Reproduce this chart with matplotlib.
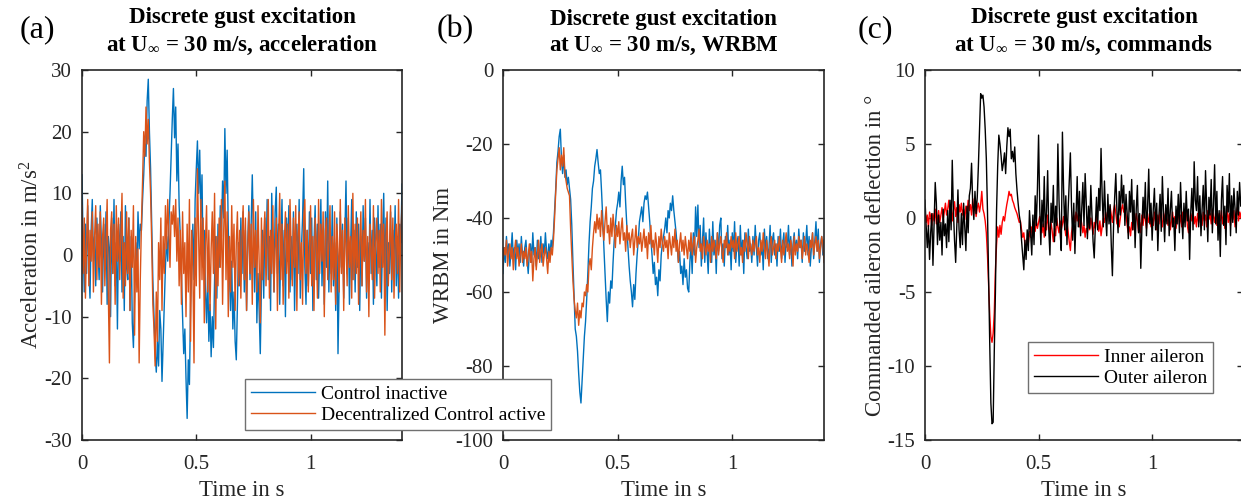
import numpy as np
import matplotlib
matplotlib.use("Agg")
import matplotlib.pyplot as plt

plt.rcParams['font.family'] = ['Liberation Serif', 'DejaVu Serif']
plt.rcParams['mathtext.fontset'] = 'custom'
plt.rcParams['mathtext.rm'] = 'Liberation Serif'
plt.rcParams['mathtext.it'] = 'Liberation Serif:italic'
plt.rcParams['mathtext.bf'] = 'Liberation Serif:bold'

dt = 0.005  # sample interval in s

acc_inactive = [
    13, 2, -6, 5, -3, 8, -2, -7, 4, 9, -1, 3, -5, 6, 1, -4, 8, 2, -6, 5,
    -2, 7, -8, 3, 1, -10, 6, -3, 9, -5, 2, -12, 5, -1, 7, -6, 3, -9, 8, -2,
    -4, 6, -9, 3, -11, -15, -6, 2, -3, 7, 1, 5, 4, 9, 13, 18, 16, 25, 28.5, 20,
    14, 5, -4, -10, -16, -19, -14, -18, -9, -12, -20.5, -14, -8, -2, 3, -1, 5, 10, 16, 22,
    27, 19, 24, 12, 18, 8, 3, -3, -10, -16, -12, -20, -26.5, -17, -21, -8, -2, 5, -4, 9,
    14, 18.5, 10, 17, 6, 13, -2, 4, -6, -11, -3, -14, -8, -16.5, -10, -15, -4, 3, -7, 5,
    -2, 8, 3, 12, 6, 20.5, 10, 17, 4, -3, -9, -1, -12, -6, -14, -17, -8, 2, -5, 6,
    -3, 7, -6, 4, -9, 2, 8, -4, 5, 13, 3, -6, 7, -11, -3, -9, -16, -5, 4, -7,
    6, -2, 9, -4, 3, -9, 10, 1, -6, 7, 11, -3, 5, -8, 2, 9, -5, 4, -10, 6,
    -1, 8, -6, 3, -4, 7, -9, 2, 5, -3, 9, -7, 1, 6, 14, -2, -8, 4, -5, 7,
    -3, 6, -9, 2, 8, -4, 5, -7, 1, 9, -5, 3, -8, 7, -2, 12, -6, 4, -3, 8,
    -5, 2, -9, 6, -16, -4, 7, -2, 5, -7, 3, 12, -3, 6, -8, 1, 9, -4, 4, -6,
    7, -2, 5, -9, 3, -5, 8, -1, 6, -7, 2, -4, 9, -3, 4, -8, 6, 1, -5, 8,
    -2, 5, -7, 3, 10, -4, 6, -9, 2, -3, 7, -6, 4, -1, 8, -5, 3, -7, 5, 2,
    11.5]

acc_active = [
    8, -3, 6, -7, 2, 9, -5, 4, -1, 7, -6, 3, 8, -4, 5, -2, 7, -8, 3, 6,
    -5, 2, 9, -6, -17.5, 4, 7, -3, 5, -8, 8, -1, 6, -4, 3, 10, -7, 2, -5, 7,
    -3, 6, -9, 4, -2, 8, -13, 3, -6, 1, -17.5, -4, 5, 12, 20, 16, 24, 18, 22, 15,
    10, 2, -8, -12, -18, -6, -14, 2, -4, 6, -9, 3, -3, 8, 1, 9, 4, -2, 7, 5,
    8, 3, 9, -1, 6, -5, 4, -8, 7, -3, 2, -10, 5, -6, 9, -14, 4, -2, -17.5, 6,
    -5, 14, 3, -7, 9, -4, 6, -11, 2, 8, -6, 4, -9, 1, 7, -3, 10, -12, 3, -5,
    6, -2, 9, -8, 4, 12, -4, 7, -10, 3, -6, 8, -2, 5, -9, 2, 7, -5, 4, -7,
    3, 8, -4, 6, -9, 1, 7, -3, 5, -8, 9, -2, 4, -6, 8, -1, -11, 6, -4, 3,
    7, -5, 2, 9, -7, 4, -3, 8, -6, 1, 6, -9, 3, 10, -4, 5, -8, 2, 7, -3,
    5, -7, 9, 1, -5, 6, -2, 8, -9, 3, 7, -4, 2, -8, 6, 9, -3, 4, -6, 1,
    8, -5, 3, -9, 6, 2, -7, 9, -3, 5, -1, 7, -10, 4, 6, -4, 2, 8, -6, 3,
    -4, 7, -8, 5, 1, -6, 9, -3, 4, -9, 6, 2, -5, 8, -2, 3, -7, 10, -4, 5,
    -3, 6, -8, 2, 7, -5, 4, -1, 9, -6, 3, -10, 5, 1, -4, 8, -7, 2, 6, -3,
    4, -6, 9, -2, 5, -13, 3, 7, -5, 1, 8, -4, 6, -7, 2, 5, -3, 9, -6, 4,
    8]

wrbm_inactive = [
    -55, -48, -52, -45, -50, -47, -53, -49, -44, -51, -48, -54, -46, -50, -47, -52, -45, -50, -53, -48,
    -46, -51, -55, -49, -47, -52, -44, -50, -48, -53, -46, -51, -49, -45, -52, -47, -50, -44, -49, -51,
    -47, -50, -46, -48, -44, -38, -32, -25, -22, -18, -16, -24, -28, -23, -29, -27, -31, -29, -32, -35,
    -42, -52, -61, -70, -72, -76, -82, -87, -90, -84, -78, -72, -68, -62, -55, -47, -41, -37, -32, -30,
    -26, -24, -21.5, -25, -28, -27, -33, -40, -48, -55, -62, -68, -60, -63, -57, -59, -52, -46, -42, -38,
    -36, -33, -37, -30, -26, -31, -29, -36, -42, -48, -53, -57, -60, -64, -58, -62, -55, -50, -46, -41,
    -39, -37, -41, -36, -34, -35, -33, -37, -41, -46, -50, -55, -52, -58, -56, -61, -54, -57, -50, -47,
    -45, -43, -40, -44, -38, -40, -36, -38, -34, -38, -41, -44, -48, -52, -49, -55, -53, -58, -51, -56,
    -54, -59, -60, -52, -47, -55, -44, -50, -37, -45, -36.5, -48, -42, -53, -46, -40, -52, -44, -49, -55,
    -43, -48, -52, -41, -50, -46, -55, -44, -49, -42, -40, -51, -47, -53, -45, -48, -42, -50, -46, -54,
    -44, -49, -41, -52, -47, -45, -53, -42, -50, -46, -55, -44, -48, -51, -43, -49, -47, -52, -45, -50,
    -42, -48, -53, -46, -44, -50, -47, -54, -43, -49, -45, -51, -48, -42, -52, -46, -44, -50, -47, -53,
    -45, -49, -43, -51, -47, -44, -52, -46, -48, -42, -50, -45, -53, -47, -44, -49, -46, -51, -43, -48,
    -46, -52, -44, -49, -47, -42, -50, -45, -53, -48, -44, -51, -46, -41, -49, -43, -52, -47, -45, -50,
    -46]

wrbm_active = [
    -52, -48, -50, -46, -53, -49, -47, -51, -48, -54, -49, -46, -51, -48, -53, -50, -47, -52, -49, -51,
    -48, -53, -50, -47, -52, -49, -57, -51, -48, -54, -50, -46, -52, -49, -47, -53, -50, -48, -51, -55,
    -49, -52, -48, -50, -46, -40, -33, -27, -24, -21, -27, -23, -26, -21, -28, -30, -32, -33, -34, -43,
    -50, -57, -62, -65, -67, -63, -69, -65, -67, -63, -64, -60, -61, -58, -60, -53, -51, -54, -48, -44,
    -41, -44, -39, -43, -40, -45, -38, -43, -46, -41, -37, -44, -42, -47, -40, -45, -39, -43, -48, -42,
    -45, -41, -47, -43, -40, -46, -44, -49, -42, -46, -44, -48, -45, -43, -50, -46, -42, -48, -45, -47,
    -44, -49, -46, -43, -48, -45, -51, -44, -47, -42, -48, -46, -50, -44, -47, -52, -45, -48, -43, -47,
    -49, -45, -48, -46, -51, -44, -47, -50, -45, -48, -43, -49, -46, -52, -47, -44, -49, -46, -50, -45,
    -48, -51, -46, -49, -44, -50, -47, -45, -52, -48, -46, -43, -49, -47, -51, -45, -48, -50, -46, -49,
    -47, -52, -45, -49, -46, -48, -51, -44, -50, -47, -45, -49, -52, -46, -48, -44, -50, -47, -49, -45,
    -48, -46, -51, -44, -49, -47, -45, -50, -48, -52, -46, -49, -44, -47, -51, -45, -48, -50, -46, -49,
    -47, -45, -50, -48, -52, -46, -49, -44, -48, -51, -46, -49, -53, -47, -45, -50, -48, -46, -51, -47,
    -49, -45, -48, -52, -46, -50, -47, -44, -49, -47, -51, -46, -48, -53, -45, -50, -47, -49, -45, -48,
    -46, -51, -48, -45, -50, -47, -49, -52, -46, -48, -44, -50, -47, -45, -49, -46, -51, -48, -45, -47,
    -52]

inner_aileron = [
    0.5, -0.3, 0.2, -0.6, 0.4, 0.1, -0.5, 0.3, -0.2, 0.6, -0.4, 0.0, 0.5, -0.3, 0.2, 0.7, -0.1, 0.4, 1.0, 0.2,
    0.6, 1.2, 0.3, 0.8, -0.2, 0.5, 1.1, 0.1, 0.7, -0.3, 0.9, 0.4, 1.0, 0.2, 0.6, -0.1, 0.8, 0.3, 1.2, 0.5,
    0.9, 0.2, 1.3, 0.5, 0.8, 0.1, 0.7, 1.0, 0.4, 0.9, 1.8, 0.6, 0.3, -0.2, -1.0, -2.5, -4.5, -6.5, -8.0, -8.4,
    -7.8, -6.4, -3.5, -1.8, -0.6, -1.3, -0.5, -1.1, -0.3, 0.1, -0.2, 0.4, 0.9, 1.3, 1.8, 1.5, 1.6, 1.2, 1.0, 0.7,
    0.5, 0.3, 0.0, -0.3, -0.2, -0.8, -1.3, -1.0, -1.8, -2.0, -1.4, -1.7, -0.9, -1.3, -0.6, -1.1, -0.4, -0.9, -0.2, -0.7,
    -0.3, 0.1, -0.6, -1.0, -0.4, -1.3, -0.2, -0.8, 0.2, -0.5, -1.1, -0.3, -0.9, -1.6, -0.7, -1.2, 0.0, -0.6, -1.0, -0.2,
    -0.8, -0.4, 0.1, -0.6, -1.2, -0.3, -0.9, -1.6, -2.2, -1.0, -0.5, 0.2, -0.3, 0.4, -0.2, 0.3, -0.6, 0.1, -0.4, -1.0,
    -0.5, -1.3, -0.7, -1.0, -0.2, -0.8, 0.0, -0.5, -1.1, -0.3, -0.7, 0.1, -0.4, -0.9, -0.2, -1.2, -0.6, 0.0, -0.3, 0.4,
    -0.2, 0.5, 0.1, 0.8, 0.2, -0.3, 0.5, 0.9, 0.3, -0.4, 0.2, -0.6, 0.0, 0.6, 0.9, 0.4, 0.7, 0.2, -0.5, -1.0,
    -0.6, -1.2, -0.3, -0.8, 0.1, -0.4, 0.3, -0.2, -0.9, -0.3, -1.0, 0.2, -0.5, 0.4, -0.1, -0.7, 0.3, -0.3, 0.1, -0.6,
    0.0, -0.5, 0.4, -0.2, -0.8, 0.2, -0.4, 0.5, -0.1, -0.6, 0.3, -0.3, 0.6, 0.0, -0.5, 0.2, -0.8, -0.2, 0.4, -0.4,
    0.1, -0.7, -0.2, 0.5, -0.4, 0.2, -0.6, 0.4, -0.3, 0.0, 0.6, -0.5, -1.0, -0.3, 0.3, -0.2, 0.5, -0.4, 0.1, -0.6,
    0.3, -0.3, 0.6, 0.0, -0.5, 0.4, -0.2, 0.2, -0.6, 0.5, -0.1, 0.3, -0.4, 0.6, 0.1, -0.3, 0.4, -0.5, 0.0, 0.3,
    -0.2, 0.5, -0.4, 0.2, -0.7, 0.1, 0.6, -0.3, 0.3, -0.5, 0.4, -0.1, 0.5, -0.6, 0.2, 0.7, -0.2, 0.4, 0.0, 0.6,
    0.2]

outer_aileron = [
    1.2, -0.5, -2.0, -0.5, -2.8, -1.0, 0.3, -3.2, -0.5, 2.4, 1.0, -1.8, 0.2, -1.5, -0.3, -2.5, 0.6, -1.2, -0.4, -2.0,
    0.5, -1.6, 1.2, -0.8, 3.9, 0.5, -1.5, -3.0, -0.5, 1.9, -0.8, -2.0, 0.3, -1.8, 1.0, -0.6, -2.2, 0.8, -1.0, 1.5,
    2.0, 3.7, 1.0, -0.1, 1.8, 0.3, 1.4, 3.5, 6.0, 8.4, 8.1, 8.3, 7.5, 6.0, 4.0, 0.5, -4.0, -8.5, -12.5, -13.9,
    -13.8, -9.0, -5.0, 0.5, 3.5, 5.6, 5.0, 4.2, 3.2, 3.7, 4.4, 3.0, 4.8, 6.1, 5.5, 6.0, 4.0, 4.5, 3.8, 4.8,
    3.0, 1.9, 1.0, 0.2, -0.3, -1.5, -2.5, -3.5, -1.5, -2.8, -0.8, -2.2, 0.5, -1.0, -2.5, 0.2, -1.8, 1.5, -0.5, 2.0,
    5.6, 0.8, -1.8, 1.2, -0.6, 2.8, -1.2, 0.4, 3.2, -0.8, -2.5, 1.0, -0.3, 2.2, -1.6, 0.8, -0.5, 5.0, 1.2, -1.0,
    -2.2, 5.8, 2.0, -0.8, 1.5, -1.8, 0.5, 2.5, 4.4, 0.8, -1.5, 1.0, -2.4, 0.3, 2.8, -0.6, 1.8, -1.2, 0.6, 2.4,
    -0.5, 3.0, 1.0, -1.4, 0.8, -0.7, 2.2, 0.2, -1.6, -2.7, -0.5, 1.4, -0.8, 2.0, 0.5, 4.7, 1.5, -0.6, 2.5, 0.2,
    -1.2, 1.6, -0.4, 0.9, -1.8, -3.9, -0.6, 1.4, 3.0, 0.5, -1.0, 1.8, 0.2, 2.9, 1.0, 2.2, -0.5, 1.6, 0.3, -1.4,
    1.8, 0.4, 2.6, -0.8, 1.2, -2.0, 0.6, 2.2, -1.0, 0.3, -3.4, -0.6, 1.4, 0.0, 2.4, -1.2, 0.8, 3.3, -0.4, 1.0,
    -1.5, 0.6, 2.0, -0.8, 1.0, -2.2, 0.2, 1.6, -0.9, 2.8, 0.4, -1.6, 0.9, -0.4, 2.0, -1.2, 0.5, 1.8, -0.6, 0.0,
    -2.2, 0.8, -0.4, 1.6, -1.0, 2.4, 0.2, -1.4, 1.0, -0.6, 1.8, -0.2, 0.6, -2.8, 0.4, 2.0, -0.8, 3.8, 1.2, 0.5,
    2.8, -0.6, 1.5, -1.2, 0.6, 2.2, -0.8, 3.2, 0.8, -1.6, 1.4, 0.2, 2.6, -1.0, 0.9, 3.6, -0.4, 1.8, -1.5, 0.5,
    -2.6, 1.2, 2.8, -0.5, 0.8, -1.8, 2.2, 0.4, 3.0, -1.2, 1.5, -0.3, 2.0, 0.6, -1.0, 1.8, 0.2, 2.4, 0.8, 1.0,
    2.0]

x_ticks = [0, 0.5, 1]
x_ticklabels = ['0', '0.5', '1']
acc_yticks = [-30, -20, -10, 0, 10, 20, 30]
wrbm_yticks = [-100, -80, -60, -40, -20, 0]
cmd_yticks = [-15, -10, -5, 0, 5, 10]

BLUE = '#0072BD'
ORANGE = '#D95319'
AX_COL = '#262626'

t = np.arange(len(acc_inactive)) * dt

fig = plt.figure(figsize=(12.41, 5.03), dpi=100)
H = 503.0
W = 1241.0
def pos(x0, x1, y0=70, y1=440):
    return [x0 / W, 1 - y1 / H, (x1 - x0) / W, (y1 - y0) / H]

ax1 = fig.add_axes(pos(82, 402))
ax2 = fig.add_axes(pos(503, 824))
ax3 = fig.add_axes(pos(925, 1243))
ax1.set_zorder(5)
ax1.patch.set_alpha(0)

TFS = 15      # tick labels
LFS = 16.5    # axis labels
TIT = 16.5    # titles
LEG = 14      # legends
for ax in (ax1, ax2, ax3):
    ax.set_xlim(0, 1.4)
    ax.set_xticks(x_ticks)
    ax.set_xticklabels(x_ticklabels)
    ax.tick_params(direction='in', top=True, right=True, length=4.5, width=1.0,
                   labelsize=TFS, colors=AX_COL, pad=7)
    ax.tick_params(axis='x', pad=11)
    for s in ax.spines.values():
        s.set_linewidth(1.2)
        s.set_color(AX_COL)
    ax.set_xlabel('Time in s', fontsize=LFS, color=AX_COL, labelpad=4)

title_kw = dict(fontsize=TIT, fontweight='bold', color='black', pad=14, linespacing=1.3)
leg_kw = dict(fontsize=LEG, handlelength=3.3, frameon=True, fancybox=False,
              borderaxespad=0, borderpad=0.3, labelspacing=0.2, handletextpad=0.3,
              framealpha=1, loc='lower left')

# (a) acceleration
ax1.plot(t, acc_inactive, color=BLUE, lw=1.0, label='Control inactive')
ax1.plot(t, acc_active, color=ORANGE, lw=1.0, label='Decentralized Control active')
ax1.set_ylim(-30, 30)
ax1.set_yticks(acc_yticks)
ax1.set_yticklabels([str(v) for v in acc_yticks])
ax1.set_ylabel('Acceleration in m/s$^2$', fontsize=LFS, color=AX_COL, labelpad=1)
ax1.set_title('Discrete gust excitation\nat U$_{\\infty}$ = 30 m/s, acceleration', **title_kw)
leg1 = ax1.legend(bbox_to_anchor=(0.509, 0.027), **leg_kw)
leg1.get_frame().set_edgecolor('#707070')
leg1.get_frame().set_linewidth(1.0)

# (b) WRBM
ax2.plot(t, wrbm_inactive, color=BLUE, lw=1.0)
ax2.plot(t, wrbm_active, color=ORANGE, lw=1.0)
ax2.set_ylim(-100, 0)
ax2.set_yticks(wrbm_yticks)
ax2.set_yticklabels([str(v) for v in wrbm_yticks])
ax2.set_ylabel('WRBM in Nm', fontsize=LFS, color=AX_COL, labelpad=1)
ax2.set_title('Discrete gust excitation\nat U$_{\\infty}$ = 30 m/s, WRBM', **title_kw)

# (c) commands
ax3.plot(t, inner_aileron, color='red', lw=1.0, label='Inner aileron')
ax3.plot(t, outer_aileron, color='black', lw=1.0, label='Outer aileron')
ax3.set_ylim(-15, 10)
ax3.set_yticks(cmd_yticks)
ax3.set_yticklabels([str(v) for v in cmd_yticks])
ax3.set_ylabel('Commanded aileron deflection in °', fontsize=LFS, color=AX_COL, labelpad=1)
ax3.set_title('Discrete gust excitation\nat U$_{\\infty}$ = 30 m/s, commands', **title_kw)
leg3 = ax3.legend(bbox_to_anchor=(0.324, 0.127), **leg_kw)
leg3.get_frame().set_edgecolor('#707070')
leg3.get_frame().set_linewidth(1.0)

# panel letters
for xp, lab in ((20, '(a)'), (437, '(b)'), (858, '(c)')):
    fig.text(xp / W, 1 - 30 / H, lab, fontsize=23, va='center', ha='left', color='black')

fig.savefig('out.png', dpi=100)
